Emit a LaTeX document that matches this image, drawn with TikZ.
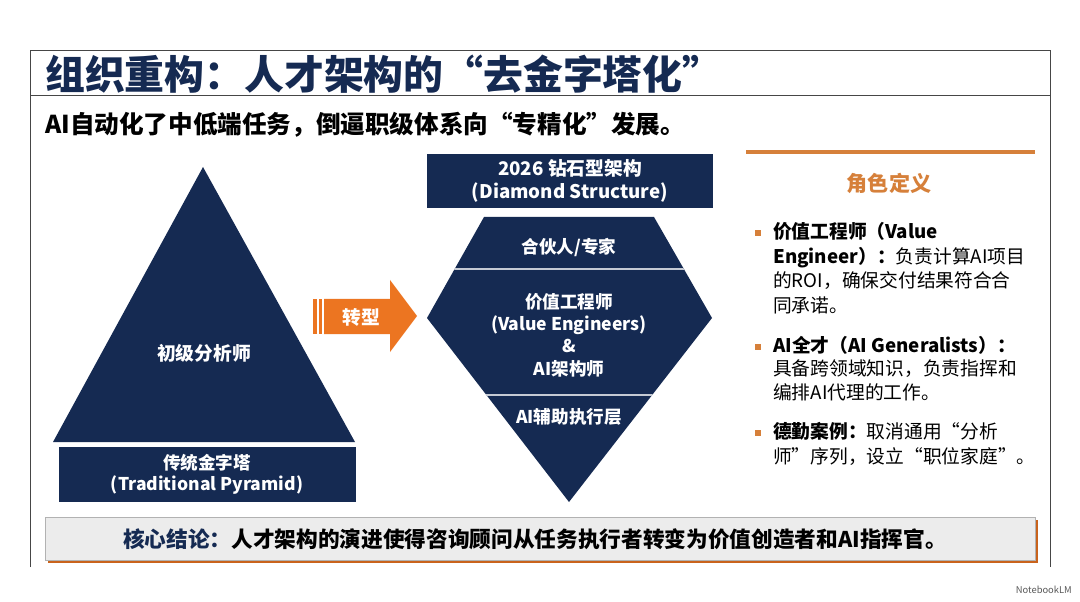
\documentclass[tikz,border=0pt]{standalone}
\usepackage{fontspec}
\setmainfont{Noto Sans CJK SC}
\usepackage{xcolor}
\usepackage{tikz}
\usetikzlibrary{calc}
\definecolor{navy}{RGB}{21,42,82}
\definecolor{accent}{RGB}{236,117,33}
\definecolor{panelorange}{RGB}{214,128,58}
\definecolor{framegray}{RGB}{70,70,70}
\newcommand{\fsz}[2]{\fontsize{#1}{#2}\selectfont}

\begin{document}
\begin{tikzpicture}[x=0.3mm,y=-0.3mm,
  wtext/.style={text=white,font=\bfseries\fsz{15}{18},align=center,inner sep=0},
  roletext/.style={font=\fsz{16}{21},align=left,anchor=north west,inner sep=0},
  bulletsq/.style={fill=panelorange,minimum size=4.5pt,inner sep=0}]
\useasboundingbox (0,0) rectangle (1080,602);
\fill[white] (0,0) rectangle (1080,602);
% frame and title
\draw[framegray,line width=0.6pt] (30,567)--(30,50)--(1050,50)--(1050,567);
\draw[framegray,line width=0.6pt] (30,95)--(1050,95);
\node[anchor=west,inner sep=0,text=navy,font=\bfseries\fsz{34}{40}] (title) at (45,74) {组织重构：人才架构的“去金字塔化”};
\node[anchor=west,inner sep=0,font=\bfseries\fsz{21}{24}] (subtitle) at (45,125) {AI自动化了中低端任务，倒逼职级体系向“专精化”发展。};
% traditional pyramid
\fill[navy] (203,167)--(355,442)--(53,442)--cycle;
\node[wtext,font=\bfseries\fsz{16}{19}] (junior) at (204,353) {初级分析师};
\fill[navy] (59,447) rectangle (356,502);
\node[wtext] (pyrlabel) at (207,474) {传统金字塔\\(Traditional Pyramid)};
% transformation arrow
\fill[accent] (313,299) rectangle (316.5,334);
\fill[accent] (318.5,299) rectangle (322,334);
\fill[accent] (324,299)--(390,299)--(390,280)--(417,316)--(390,352)--(390,334)--(324,334)--cycle;
\node[wtext,font=\bfseries\fsz{16}{19}] (shift) at (361,317) {转型};
% diamond structure
\fill[navy] (427,154) rectangle (713,208);
\node[wtext,font=\bfseries\fsz{16}{19}] (diamondhead) at (570,181) {2026 钻石型架构\\(Diamond Structure)};
\fill[navy] (484,217)--(654,217)--(712,318)--(569,502)--(427,318)--cycle;
\begin{scope}
\clip (484,217)--(654,217)--(712,318)--(569,502)--(427,318)--cycle;
\draw[white!75!navy,line width=0.9pt] (420,269)--(720,269);
\draw[white!75!navy,line width=0.9pt] (420,395)--(720,395);
\end{scope}
\node[wtext] (partner) at (569,247) {合伙人/专家};
\node[wtext,font=\bfseries\fsz{15}{19}] (valueeng) at (569,335) {价值工程师\\(Value Engineers)\\\&\\AI架构师};
\node[wtext] (aiexec) at (569,417) {AI辅助执行层};
% role panel
\draw[panelorange,line width=3.2pt] (746,152)--(1035,152);
\node[inner sep=0,text=panelorange,font=\bfseries\fsz{18}{22}] (roles) at (889,183) {角色定义};
\node[bulletsq] (bulA) at (758,233) {};
\node[roletext] (roleA) at (773,222) {\textbf{价值工程师（Value}\\\textbf{Engineer）：}负责计算AI项目\\的ROI，确保交付结果符合合\\同承诺。};
\node[bulletsq] (bulB) at (758,347) {};
\node[roletext,font=\fsz{16}{20}] (roleB) at (773,336) {\textbf{AI全才（AI Generalists）：}\\具备跨领域知识，负责指挥和\\编排AI代理的工作。};
\node[bulletsq] (bulC) at (758,433) {};
\node[roletext] (roleC) at (773,422) {\textbf{德勤案例：}取消通用“分析\\师”序列，设立“职位家庭”。};
% conclusion bar
\fill[accent!85!black] (48,520) rectangle (1038,563);
\fill[gray!15] (45,517) rectangle (1035,560);
\draw[gray!60,line width=0.6pt] (45,517) rectangle (1035,560);
\node[inner sep=0,font=\bfseries\fsz{18.5}{22}] (conclusion) at (535,539) {\textcolor{navy}{核心结论：}人才架构的演进使得咨询顾问从任务执行者转变为价值创造者和AI指挥官。};
\node[inner sep=0,anchor=east,text=gray!70!black,font=\fsz{8}{10}] (brand) at (1072,590) {NotebookLM};
\end{tikzpicture}
\end{document}
